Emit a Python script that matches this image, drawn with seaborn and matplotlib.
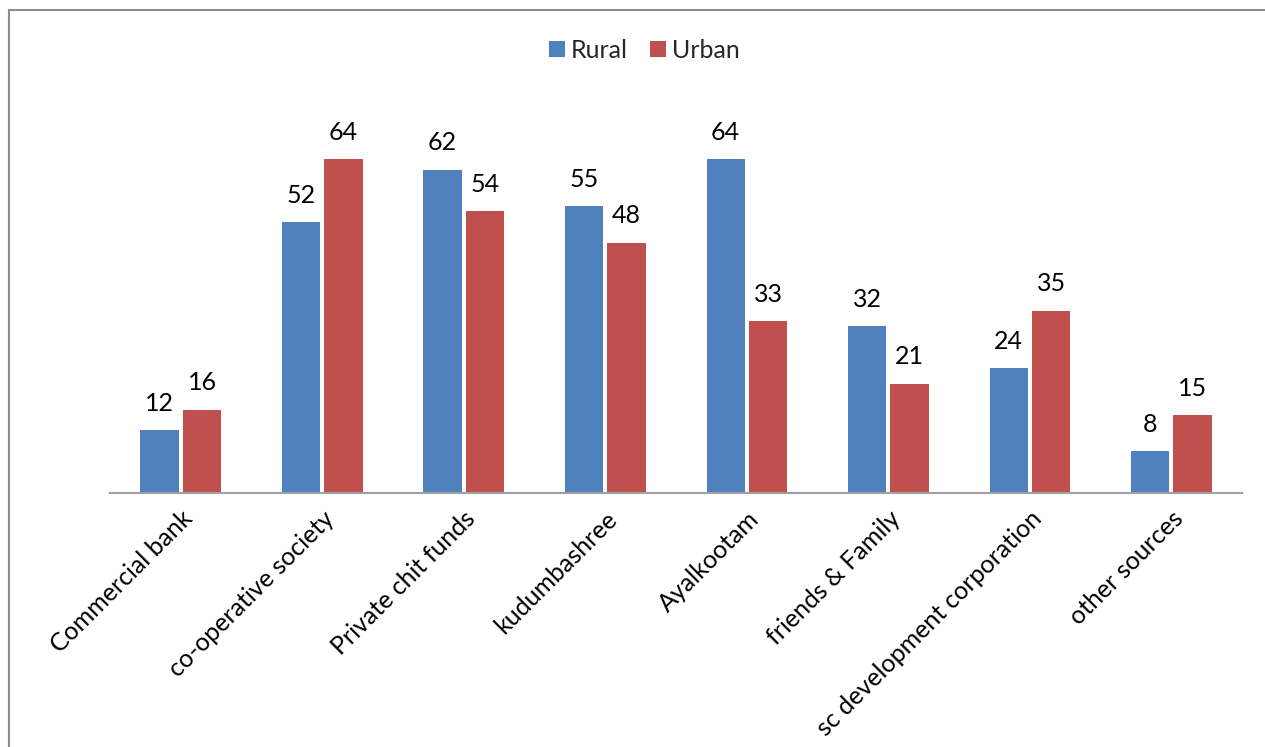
import matplotlib
matplotlib.use("Agg")
import matplotlib.pyplot as plt
from matplotlib.lines import Line2D
import seaborn as sns
import pandas as pd

# Sources of credit, by area
categories = ["Commercial bank", "co-operative society", "Private chit funds",
              "kudumbashree", "Ayalkootam", "friends & Family",
              "sc development corporation", "other sources"]
rural = [12, 52, 62, 55, 64, 32, 24, 8]
urban = [16, 64, 54, 48, 33, 21, 35, 15]
series_names = ["Rural", "Urban"]

df = pd.DataFrame({
    "source": categories * 2,
    "area": [series_names[0]] * len(categories) + [series_names[1]] * len(categories),
    "value": rural + urban,
})

sns.set_theme(style="white")
plt.rcParams["font.family"] = ["Lato", "DejaVu Sans"]

FS = 18

fig = plt.figure(figsize=(12.65, 7.47), dpi=100)
ax = fig.add_axes([0.087, 0.340, 0.8949, 0.4886])

sns.barplot(data=df, x="source", y="value", hue="area", order=categories,
            hue_order=series_names, palette=["#4F81BD", "#C0504D"],
            saturation=1, width=0.6, gap=0.1, linewidth=0,
            ax=ax, legend=True, errorbar=None)

for cont in ax.containers:
    ax.bar_label(cont, fmt="%d", padding=11, fontsize=FS, color="black")

ax.set_ylim(0, 70)
ax.set_xlim(-0.5, len(categories) - 0.5)
ax.set_xlabel("")
ax.set_ylabel("")
ax.set_yticks([])
for side in ["top", "right", "left"]:
    ax.spines[side].set_visible(False)
ax.spines["bottom"].set_color("#A0A0A0")
ax.spines["bottom"].set_linewidth(1.5)
ax.tick_params(axis="x", length=0, pad=10)
ax.set_xticks(range(len(categories)))
ax.set_xticklabels(categories, rotation=45, ha="right", rotation_mode="anchor",
                   fontsize=FS, color="black")

leg = ax.legend(loc="center", bbox_to_anchor=(0.5 + 12 / 1265, 1 - 50 / 747),
                bbox_transform=fig.transFigure, ncol=2, frameon=False,
                fontsize=FS, handlelength=0.62, handleheight=0.62,
                handletextpad=0.25, columnspacing=0.9)

# outer frame lines of the chart area
fig.add_artist(Line2D([9 / 1265, 9 / 1265], [0, 1 - 10 / 747],
                      transform=fig.transFigure, color="#8C8C8C", lw=1.5))
fig.add_artist(Line2D([9 / 1265, 1], [1 - 10 / 747, 1 - 10 / 747],
                      transform=fig.transFigure, color="#8C8C8C", lw=1.5))

fig.savefig("out.png", dpi=100)
